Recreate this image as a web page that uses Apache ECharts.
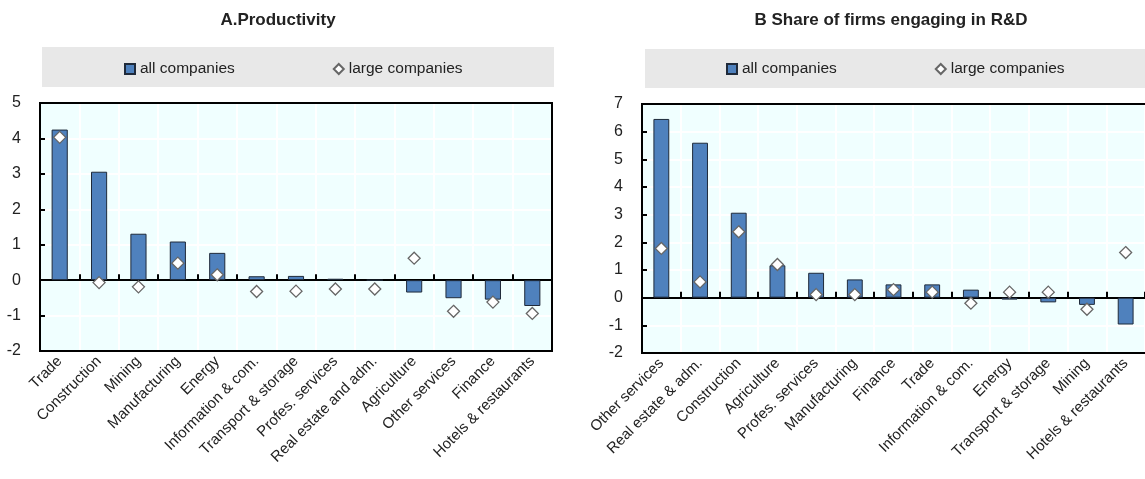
<!DOCTYPE html>
<html>
<head>
<meta charset="utf-8">
<title>Productivity and R&amp;D by sector</title>
<script src="https://cdn.jsdelivr.net/npm/echarts@6/dist/echarts.min.js"></script>
<style>
  html, body { margin: 0; padding: 0; background: #fff; }
  #chart { width: 1145px; height: 479px; }
</style>
</head>
<body>
<div id="chart"></div>
<script>
// Panel A: productivity by sector
const sectorsA = ['Trade', 'Construction', 'Mining', 'Manufacturing', 'Energy', 'Information & com.',
  'Transport & storage', 'Profes. services', 'Real estate and adm.', 'Agriculture',
  'Other services', 'Finance', 'Hotels & restaurants'];
const allA = [4.25, 3.06, 1.31, 1.09, 0.77, 0.11, 0.12, 0.04, 0.0, -0.35, -0.51, -0.55, -0.73];
const largeA = [4.03, -0.07, -0.19, 0.48, 0.15, -0.32, -0.31, -0.25, -0.25, 0.62, -0.88, -0.62, -0.94];

// Panel B: share of firms engaging in R&D
const sectorsB = ['Other services', 'Real estate & adm.', 'Construction', 'Agriculture', 'Profes. services',
  'Manufacturing', 'Finance', 'Trade', 'Information & com.', 'Energy', 'Transport & storage',
  'Mining', 'Hotels & restaurants'];
const allB = [6.46, 5.6, 3.07, 1.17, 0.9, 0.66, 0.48, 0.48, 0.29, -0.07, -0.17, -0.26, -0.97];
const largeB = [1.78, 0.57, 2.38, 1.2, 0.11, 0.11, 0.29, 0.2, -0.2, 0.2, 0.2, -0.42, 1.63];

const yTicksA = { min: -2, max: 5, interval: 1 };
const yTicksB = { min: -2, max: 7, interval: 1 };

const FONT = 'Liberation Sans, Arial, sans-serif';
const BAR_COLOR = '#4F81BD';
const TEXT = '#222';

// Panels in layout order (A left, B right)
const panels = [
  { title: 'A.Productivity', cats: sectorsA, all: allA, large: largeA, ticks: yTicksA,
    grid: { left: 40, top: 103, width: 512, height: 248 },
    legendBox: { x: 42, y: 47, w: 512, h: 40 }, legendLeft: 124, titleX: 273 },
  { title: 'B Share of firms engaging in R&D', cats: sectorsB, all: allB, large: largeB, ticks: yTicksB,
    grid: { left: 642, top: 104, width: 508, height: 249 },
    legendBox: { x: 645, y: 49, w: 520, h: 39 }, legendLeft: 726, titleX: 886 }
];

const option = {
  animation: false,
  backgroundColor: '#fff',
  textStyle: { fontFamily: FONT },
  title: panels.map(p => ({
    text: p.title, left: p.titleX, top: 7, textAlign: 'center',
    textStyle: { fontFamily: FONT, fontSize: 17, fontWeight: 'bold', color: TEXT }
  })),
  graphic: panels.flatMap(p => [
    {
      // grey legend band
      type: 'rect', z: -10, silent: true,
      shape: { x: p.legendBox.x, y: p.legendBox.y, width: p.legendBox.w, height: p.legendBox.h },
      style: { fill: '#E8E8E8' }
    },
    {
      // plot frame, drawn above the white grid lines
      type: 'rect', z: 100, silent: true,
      shape: { x: p.grid.left, y: p.grid.top, width: p.grid.width, height: p.grid.height },
      style: { fill: null, stroke: '#000', lineWidth: 2 }
    }
  ]),
  legend: panels.map(p => ({
    left: p.legendLeft, top: 61, padding: 0,
    itemWidth: 10, itemHeight: 10, itemGap: 98,
    data: [
      { name: 'all companies', icon: 'rect' },
      { name: 'large companies', icon: 'diamond' }
    ],
    textStyle: { fontFamily: FONT, fontSize: 15.5, color: TEXT }
  })),
  grid: panels.map(p => Object.assign({
    show: true, backgroundColor: '#F0FFFF', borderWidth: 0, containLabel: false
  }, p.grid)),
  xAxis: panels.flatMap((p, i) => [
    {
      // labelled category axis along the bottom edge
      type: 'category', gridIndex: i, data: p.cats, position: 'bottom',
      axisLine: { onZero: false, show: true, lineStyle: { color: '#000', width: 2 } },
      axisTick: { show: false },
      splitLine: { show: true, interval: 0, lineStyle: { color: '#fff', width: 2 } },
      axisLabel: {
        interval: 0, rotate: 45, margin: 8, fontFamily: FONT, fontSize: 15, color: TEXT
      }
    },
    {
      // zero line with category tick marks
      type: 'category', gridIndex: i, data: p.cats, position: 'bottom',
      axisLine: { onZero: true, show: true, lineStyle: { color: '#000', width: 2 } },
      axisTick: { show: true, inside: true, interval: 0, length: 6, lineStyle: { color: '#000', width: 2 } },
      axisLabel: { show: false },
      splitLine: { show: false }
    }
  ]),
  yAxis: panels.map((p, i) => ({
    type: 'value', gridIndex: i,
    min: p.ticks.min, max: p.ticks.max, interval: p.ticks.interval,
    axisLine: { show: true, lineStyle: { color: '#000', width: 2 } },
    axisTick: { show: true, inside: true, length: 5, lineStyle: { color: '#000', width: 2 } },
    splitLine: { show: true, lineStyle: { color: '#fff', width: 2 } },
    axisLabel: { margin: 19, fontFamily: FONT, fontSize: 16, color: TEXT }
  })),
  series: panels.flatMap((p, i) => [
    {
      name: 'all companies', type: 'bar', xAxisIndex: i * 2, yAxisIndex: i,
      data: p.all, barWidth: '41%',
      itemStyle: { color: BAR_COLOR, borderColor: '#1F2A3A', borderWidth: 1 },
      z: 2
    },
    {
      name: 'large companies', type: 'scatter', xAxisIndex: i * 2, yAxisIndex: i,
      data: p.large, symbol: 'diamond', symbolSize: 12,
      itemStyle: { color: '#fff', borderColor: '#666', borderWidth: 1.3, opacity: 1 },
      z: 4
    }
  ])
};

const chart = echarts.init(document.getElementById('chart'), null, { renderer: 'canvas' });
chart.setOption(option);
</script>
</body>
</html>
